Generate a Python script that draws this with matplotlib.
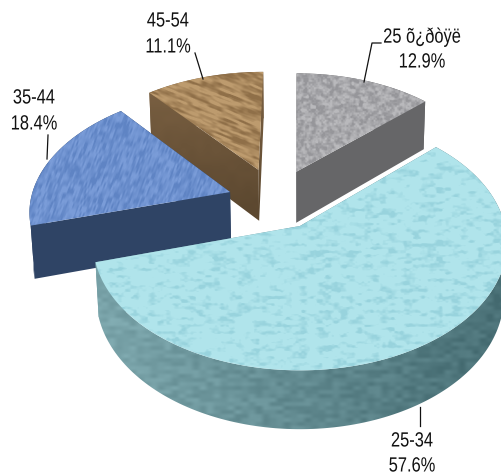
import numpy as np
import matplotlib
matplotlib.use("Agg")
import matplotlib.pyplot as plt
from matplotlib.colors import to_rgb
from matplotlib.patches import Polygon
from matplotlib.patheffects import AbstractPathEffect
from matplotlib.transforms import Affine2D

# data
categories = ["25 õ¿ðòÿë", "25-34", "35-44", "45-54"]
shares = [12.9, 57.6, 18.4, 11.1]

# drawing order far -> near, slice index into the lists above
order = [3, 0, 2, 1]
# how far each slice is pulled off the disc centre (in disc radii)
offsets = [(-0.02, 0.46), (0, 0), (-0.354, 0.282), (-0.215, 0.477)]

# perspective of the disc on the page
X0, Y0 = 300, 226
A, B, K = 205, 125, 0.134
DEPTH, SHRINK = 54, 0.015

W, H = 501, 475
yy, xx = np.mgrid[0:H, 0:W] + 0.5


class Squeeze(AbstractPathEffect):
    # the reference text is a condensed face, no such font here
    def __init__(self, fx):
        super().__init__()
        self.fx = fx

    def draw_path(self, renderer, gc, tpath, affine, rgbFace=None):
        wid = tpath.get_extents().x1
        squeeze = Affine2D().translate(-wid / 2, 0).scale(self.fx, 1).translate(wid / 2, 0)
        renderer.draw_path(gc, tpath, squeeze + affine, rgbFace)


def project(u, v, bottom=False):
    w = 1 + K * v
    if bottom:
        w = w + SHRINK
    x = X0 + A * u / w
    y = Y0 - B * v / w
    if bottom:
        y = y + DEPTH / w
    return x, y


def noise(sx, sy, rot=0, seed=0.0):
    # smooth value noise, hashed with sin so no rng is needed
    c, s = np.cos(np.radians(rot)), np.sin(np.radians(rot))
    px = (xx * c + yy * s) / sx
    py = (-xx * s + yy * c) / sy
    ix, iy = np.floor(px), np.floor(py)
    fx, fy = px - ix, py - iy
    fx = fx * fx * (3 - 2 * fx)
    fy = fy * fy * (3 - 2 * fy)

    def h(i, j):
        v = np.sin(i * 12.9898 + j * 78.233 + seed) * 43758.5453
        return v - np.floor(v)

    top = h(ix, iy) * (1 - fx) + h(ix + 1, iy) * fx
    bot = h(ix, iy + 1) * (1 - fx) + h(ix + 1, iy + 1) * fx
    return top * (1 - fy) + bot * fy


def paint(mask, dark, light):
    mask = np.clip(mask, 0, 1)[..., None]
    return np.array(to_rgb(dark)) * (1 - mask) + np.array(to_rgb(light)) * mask


def fill(ax, img, pts, z):
    im = ax.imshow(img, extent=(0, W, H, 0), aspect="auto", zorder=z, interpolation="bilinear")
    im.set_clip_path(Polygon(pts, closed=True, transform=ax.transData))


n1 = noise(3.5, 3.5, 20, 1.0) * 0.6 + noise(1.8, 1.8, 0, 2.0) * 0.4
tex_gray = paint((n1 - 0.25) * 2.0, "#96969a", "#b9b9bc")
n2 = noise(8, 3.5, 0, 3.0) * 0.7 + noise(3, 2, 0, 4.0) * 0.3
tex_teal = paint((n2 - 0.2) * 3.5, "#98d3dd", "#b0e4eb")
n3 = noise(1.6, 6, 20, 5.0) * 0.7 + noise(5, 5, 0, 6.0) * 0.3
tex_blue = paint((n3 - 0.25) * 2.0, "#5f84c4", "#7a9cd8")
n4 = noise(16, 2.2, 22, 7.0) * 0.7 + noise(5, 2, 22, 8.0) * 0.3
tex_brown = paint((n4 - 0.25) * 2.2, "#8f6f48", "#bd9b6e")
tops = [tex_gray, tex_teal, tex_blue, tex_brown]

# side of the big slice gets darker to the right, with soft blotches
n5 = noise(7, 4, 0, 9.0)
shade = 0.78 - np.clip((xx - 100) / 400, 0, 1) * 0.7 + (n5 - 0.5) * 0.28
tex_side = paint(shade, "#43696f", "#8bb6bc")
brown_side = paint((yy - 100) / 120 * -1 + 0.9 + (noise(8, 8, 0, 10.0) - 0.5) * 0.1, "#5c4830", "#7a6042")
sides = [
    np.ones((H, W, 3)) * np.array(to_rgb("#666668")),
    tex_side,
    np.ones((H, W, 3)) * np.array(to_rgb("#2f4465")),
    brown_side,
]

fig = plt.figure(figsize=(W / 100, H / 100), dpi=100)
ax = fig.add_axes([0, 0, 1, 1])

starts = np.cumsum([0] + shares[:-1]) / 100 * 2 * np.pi
ends = np.cumsum(shares) / 100 * 2 * np.pi

z = 1
for i in order:
    du, dv = offsets[i]
    t = np.linspace(starts[i], ends[i], 160)
    u = du + np.sin(t)
    v = dv + np.cos(t)
    top = np.column_stack(project(u, v))
    low = np.column_stack(project(u, v, bottom=True))
    apex = np.array(project(du, dv))
    apex_low = np.array(project(du, dv, bottom=True))
    # radial faces and rim together, top goes over them
    rim = np.vstack([top, low[::-1]])
    start_face = np.array([apex, top[0], low[0], apex_low])
    end_face = np.array([apex, top[-1], low[-1], apex_low])
    for pts in (start_face, end_face, rim):
        fill(ax, sides[i], pts, z)
        z += 1
    fill(ax, tops[i], np.vstack([[apex], top]), z)
    z += 1

ax.set_xlim(0, W)
ax.set_ylim(H, 0)
ax.axis("off")

# labels
label_pos = [(422, 37, 62), (412, 441, 466), (34, 98, 124), (168, 21, 47)]
squeeze = [Squeeze(0.8)]
for name, val, (x, y1, y2) in zip(categories, shares, label_pos):
    ax.text(x, y1, name, ha="center", va="center", fontsize=14.8, family="Liberation Sans",
            color="#111111", zorder=z, path_effects=squeeze)
    ax.text(x, y2, f"{val}%", ha="center", va="center", fontsize=14.8, family="Liberation Sans",
            color="#111111", zorder=z, path_effects=squeeze)

leaders = [
    ([364, 372, 381], [82, 43, 43]),
    ([420, 420], [407, 426]),
    ([47, 48], [159, 135]),
    ([203, 195], [79, 53]),
]
for lx, ly in leaders:
    ax.plot(lx, ly, color="#111111", lw=0.9, zorder=z)

fig.savefig("out.png", dpi=100)
